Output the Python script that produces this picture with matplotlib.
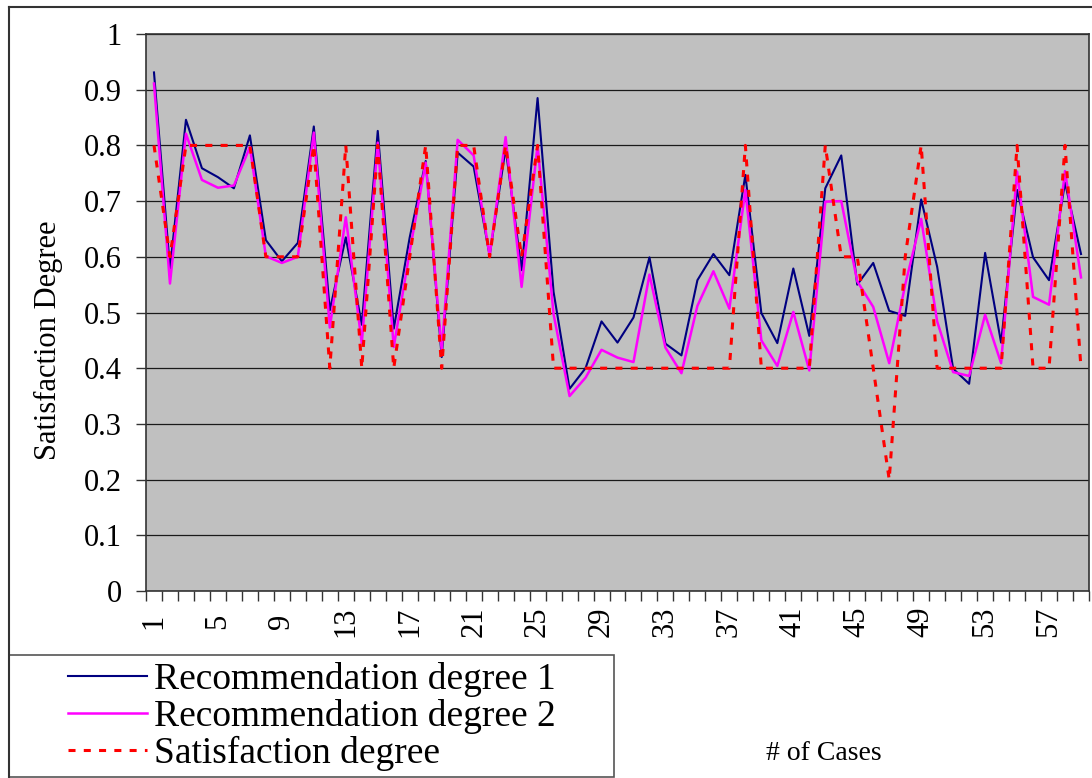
import numpy as np
from matplotlib import pyplot as plt
from matplotlib.lines import Line2D
from matplotlib.patches import Rectangle

# case numbers and the three series
cases = np.arange(1, 60)
rec1 = [0.931, 0.579, 0.846, 0.759, 0.743, 0.723, 0.818, 0.630, 0.592, 0.625,
        0.834, 0.504, 0.635, 0.478, 0.826, 0.471, 0.635, 0.772, 0.420, 0.787,
        0.762, 0.602, 0.795, 0.576, 0.885, 0.537, 0.363, 0.400, 0.484, 0.446,
        0.491, 0.599, 0.444, 0.423, 0.558, 0.605, 0.567, 0.747, 0.499, 0.445,
        0.579, 0.458, 0.723, 0.782, 0.550, 0.589, 0.503, 0.494, 0.703, 0.582,
        0.399, 0.372, 0.607, 0.446, 0.720, 0.599, 0.558, 0.733, 0.605]
rec2 = [0.911, 0.552, 0.821, 0.738, 0.724, 0.728, 0.797, 0.601, 0.589, 0.600,
        0.823, 0.473, 0.671, 0.445, 0.805, 0.438, 0.610, 0.769, 0.432, 0.810,
        0.782, 0.602, 0.815, 0.546, 0.800, 0.497, 0.350, 0.383, 0.433, 0.419,
        0.411, 0.568, 0.437, 0.391, 0.512, 0.574, 0.507, 0.720, 0.450, 0.404,
        0.501, 0.396, 0.699, 0.700, 0.556, 0.510, 0.409, 0.550, 0.668, 0.484,
        0.393, 0.386, 0.496, 0.409, 0.753, 0.528, 0.514, 0.754, 0.563]
sat = [0.8, 0.6, 0.8, 0.8, 0.8, 0.8, 0.8, 0.6, 0.6, 0.6,
       0.8, 0.4, 0.8, 0.4, 0.8, 0.4, 0.6, 0.8, 0.4, 0.8,
       0.8, 0.6, 0.8, 0.6, 0.8, 0.4, 0.4, 0.4, 0.4, 0.4,
       0.4, 0.4, 0.4, 0.4, 0.4, 0.4, 0.4, 0.8, 0.4, 0.4,
       0.4, 0.4, 0.8, 0.6, 0.6, 0.4, 0.2, 0.6, 0.8, 0.4,
       0.4, 0.4, 0.4, 0.4, 0.8, 0.4, 0.4, 0.8, 0.4]

xtick_vals = np.arange(1, 60, 4)
ytick_vals = np.round(np.arange(0, 1.01, 0.1), 1)
ytick_labels = ['0', '0.1', '0.2', '0.3', '0.4', '0.5', '0.6', '0.7', '0.8', '0.9', '1']

plt.rcParams['font.family'] = ['Liberation Serif', 'DejaVu Serif']
plt.rcParams['font.size'] = 22

W, H = 1092, 778
fig = plt.figure(figsize=(W / 100, H / 100), dpi=100)

# plot area in pixel terms of the reference
ax = fig.add_axes([146 / W, (H - 591) / H, (1089 - 146) / W, (591 - 34) / H])
ax.set_facecolor('#c0c0c0')

ax.plot(cases, rec1, color='#000080', lw=1.5, label='Recommendation degree 1')
ax.plot(cases, rec2, color='#ff00ff', lw=1.8, label='Recommendation degree 2')
ax.plot(cases, sat, color='#ff0000', lw=2.2, dashes=(2.3, 2.7), label='Satisfaction degree')

ax.set_xlim(0.5, 59.5)
ax.set_ylim(0, 1)

ax.set_yticks(ytick_vals)
ax.set_yticklabels(ytick_labels)
ax.tick_params(axis='y', direction='out', length=7.5, width=1, pad=10, color='#333333')

# ticks at the category borders, labels in the middle
ax.set_xticks(np.arange(0.5, 60, 1), minor=True)
ax.set_xticks(xtick_vals)
ax.set_xticklabels([str(v) for v in xtick_vals], rotation=90)
ax.tick_params(axis='x', which='minor', direction='out', length=7.5, width=1, color='#333333')
ax.tick_params(axis='x', which='major', length=0, pad=22)
for lbl in ax.get_xticklabels():
    lbl.set_va('center')

ax.yaxis.grid(True, color='#1a1a1a', lw=0.9)
ax.set_axisbelow(True)
for s in ax.spines.values():
    s.set_color('#333333')
    s.set_linewidth(1.2)

ax.set_ylabel('Satisfaction Degree', fontsize=22)
ax.yaxis.set_label_coords((63 - 146) / 943, (591 - 340) / 557)
ax.set_xlabel('# of Cases', fontsize=20)
ax.xaxis.set_label_coords((824 - 146) / 943, (591 - 741) / 557)

# outer chart border (left and top visible)
fig.add_artist(Line2D([8.5 / W, 8.5 / W], [0, 1 - 6.5 / H], color='#333333', lw=1.5,
                      transform=fig.transFigure))
fig.add_artist(Line2D([8.5 / W, 1], [1 - 6.5 / H, 1 - 6.5 / H], color='#333333', lw=1.5,
                      transform=fig.transFigure))

# legend box
fig.add_artist(Rectangle((9 / W, 1 / H), (614 - 9) / W, (H - 655 - 1) / H, fill=False,
                         edgecolor='#555555', lw=1.2, transform=fig.transFigure))
fig.legend(loc='upper left', bbox_to_anchor=(68 / W, 1 - 662 / H), frameon=False,
           fontsize=27, handlelength=2.1, handletextpad=0.2, labelspacing=0.05,
           borderpad=0, borderaxespad=0)

fig.savefig('out.png', dpi=100)
plt.close()
